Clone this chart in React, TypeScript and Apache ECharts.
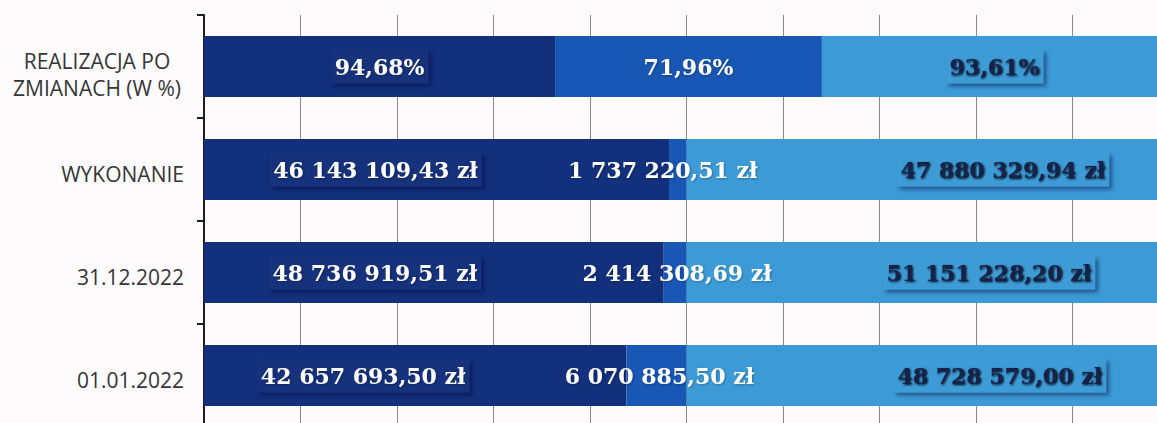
import React, { useEffect, useRef } from "react";
import * as echarts from "echarts";

// Categories, bottom to top
const categories = ["01.01.2022", "31.12.2022", "WYKONANIE", "REALIZACJA PO\nZMIANACH (W %)"];
// Unit of each row
const rowUnits = ["zł", "zł", "zł", "%"];
// Series values (raw)
const biezace = [42657693.5, 48736919.51, 46143109.43, 94.68];
const majatkowe = [6070885.5, 2414308.69, 1737220.51, 71.96];
const ogolem = [48728579.0, 51151228.2, 47880329.94, 93.61];
const seriesNames = ["Wydatki bieżące", "Wydatki majątkowe", "Ogółem"];

// Styles
const colors = ["#13307c", "#1857b4", "#3c9bd6"];
const labelColors = ["#ffffff", "#ffffff", "#17234a"];
const labelNudge = [
  [-52, -59, -61, 0],
  [3, 2, -15, 0],
  [72, 61, 75, -1],
];

const fmt = (v: number, unit: string) => {
  const [i, d] = v.toFixed(2).split(".");
  if (unit === "%") return `${i},${d}%`;
  return `${i.replace(/\B(?=(\d{3})+(?!\d))/g, " ")},${d} zł`;
};

export default function App() {
  const ref = useRef<HTMLDivElement>(null);
  useEffect(() => {
    if (!ref.current) return;
    const chart = echarts.init(ref.current, undefined, { renderer: "svg" });
    const raw = [biezace, majatkowe, ogolem];
    const totals = categories.map((_, i) => biezace[i] + majatkowe[i] + ogolem[i]);
    const series = raw.map((arr, s) => ({
      type: "bar",
      name: seriesNames[s],
      stack: "all",
      barWidth: 61,
      itemStyle: { color: colors[s] },
      label: {
        show: true,
        position: "inside",
        fontFamily: "DejaVu Serif",
        fontWeight: "bold",
        fontSize: 22,
        color: labelColors[s],
        backgroundColor: s === 1 ? "transparent" : colors[s],
        padding: [6, 4],
        shadowColor: s === 1 ? "transparent" : "rgba(5,15,55,0.45)",
        shadowBlur: 4,
        shadowOffsetX: 3,
        shadowOffsetY: 3,
        textShadowColor: s === 2 ? "transparent" : "rgba(0,0,30,0.3)",
        textShadowBlur: 2,
        textShadowOffsetX: 1,
        textShadowOffsetY: 1,
        formatter: (p: any) => fmt(arr[p.dataIndex], rowUnits[p.dataIndex]),
      },
      data: arr.map((v, i) => ({
        value: (v / totals[i]) * 100,
        label: { offset: [labelNudge[s][i], 0] },
      })),
    }));
    chart.setOption({
      animation: false,
      backgroundColor: "#fdfbfb",
      grid: { left: 204, top: 15, width: 965, height: 412, outerBoundsMode: "none", containLabel: false },
      xAxis: {
        type: "value",
        min: 0,
        max: 100,
        interval: 10,
        axisLabel: { show: false },
        axisLine: { show: false },
        axisTick: { show: false },
        splitLine: { show: true, lineStyle: { color: "#8a8a8a", width: 1 } },
      },
      yAxis: {
        type: "category",
        data: categories,
        axisLine: { show: true, lineStyle: { color: "#1e1e1e", width: 2 } },
        axisTick: { show: true, length: 7, lineStyle: { color: "#1e1e1e", width: 2 } },
        axisLabel: {
          fontFamily: "Open Sans",
          fontSize: 21,
          color: "#363636",
          lineHeight: 27,
          margin: 20,
          align: "right",
          padding: [8, 0, 0, 0],
          formatter: (v: string) =>
            v.includes("\n")
              ? "{s|}\n" + v.split("\n").map((l) => `{m|${l}}`).join("\n")
              : v,
          rich: {
            s: { lineHeight: 8, height: 8, fontSize: 8 },
            m: {
              fontFamily: "Open Sans",
              fontSize: 21,
              color: "#363636",
              lineHeight: 27,
              width: 174,
              align: "center",
            },
          },
        },
      },
      series,
    });
    return () => chart.dispose();
  }, []);
  return (
    <div
      ref={ref}
      style={{ position: "absolute", left: 0, top: 0, width: 1157, height: 423 }}
    />
  );
}
